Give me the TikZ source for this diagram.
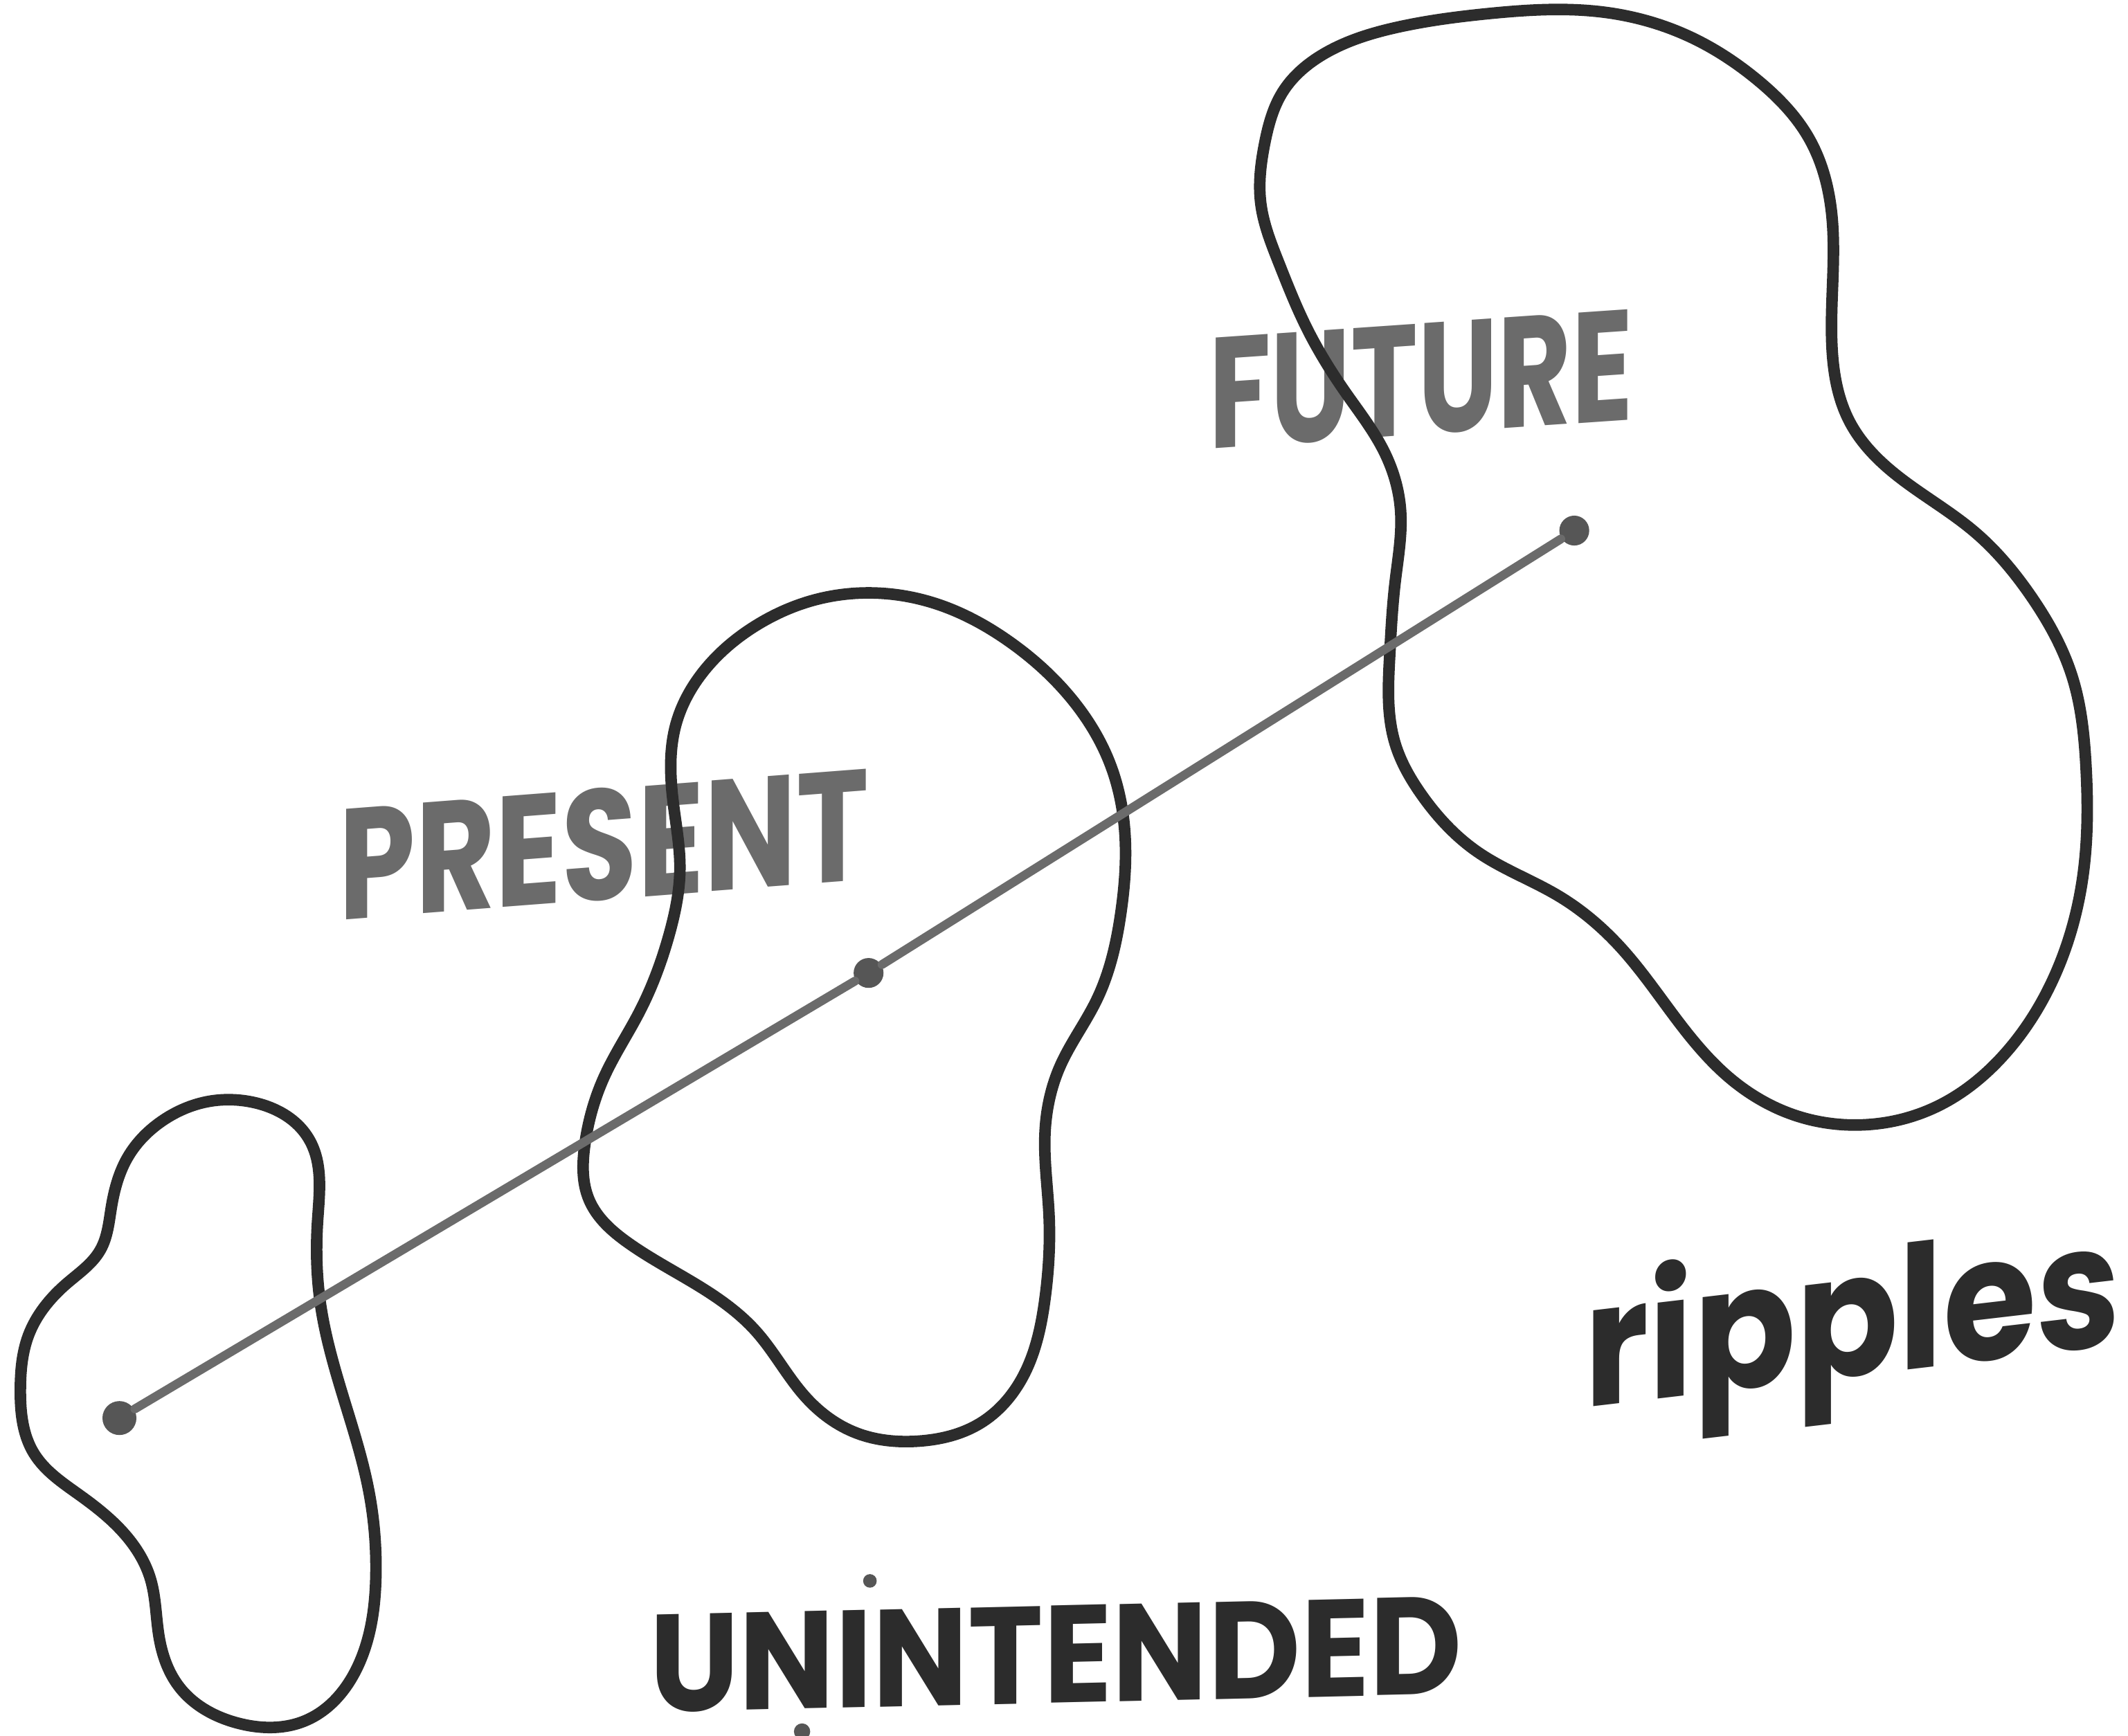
\documentclass[tikz,border=0pt]{standalone}
\usepackage{fontspec}
\usepackage{graphicx}
\newfontfamily\handfont{Poppins}
\usetikzlibrary{positioning, hobby}

\definecolor{inkblack}{HTML}{2C2C2C}
\definecolor{pencilgray}{HTML}{6B6B6B}
\definecolor{dotgray}{HTML}{565656}

\begin{document}
\begin{tikzpicture}[x=0.01cm, y=-0.01cm,
    blob/.style={draw=inkblack, line width=0.085cm, line join=round, use Hobby shortcut, closed=true},
    timeline/.style={draw=pencilgray, line width=0.065cm, line cap=round},
    dot/.style={circle, fill=dotgray, inner sep=0pt, minimum size=0.25cm},
    softword/.style={text=pencilgray, inner sep=0pt, anchor=base, font=\handfont\bfseries\fontsize{33}{33}\selectfont},
    inkword/.style={text=inkblack, inner sep=0pt, anchor=base, font=\handfont\bfseries\fontsize{29}{29}\selectfont}]

      % Fundo (margens da imagem)
      \useasboundingbox[fill=white] (0,0) rectangle (1568,1279);

      % Palavras (letras em pe, linha de base subindo)
      \node[softword, yslant=0.069] (futurelabel) at (1047,320) {\scalebox{0.72}[1]{FUTURE}};
      \node[softword, yslant=0.077] (presentlabel) at (445,663) {\scalebox{0.78}[1]{PRESENT}};
      \node[inkword, font=\handfont\bfseries\fontsize{36}{36}\selectfont, yslant=0.117] (rippleslabel) at (1365,1014) {\scalebox{0.88}[1]{ripples}};
      \node[inkword, yslant=0.023] (unintendedlabel) at (778,1255) {\scalebox{0.92}[1]{UNINTENDED}};

      % Pingos soltos perto do texto de baixo
      \fill[dotgray] (641,1165) circle (5);
      \fill[dotgray] (591,1276) circle (6);

      % Bolha pequena (passado)
      \draw[blob] (185,812) .. (228,840) .. (234,900) .. (236,960) .. (254,1033)
        .. (272,1100) .. (277,1160) .. (265,1225) .. (225,1268) .. (176,1270)
        .. (132,1243) .. (117,1205) .. (111,1164) .. (94,1133) .. (59,1102)
        .. (25,1071) .. (15,1024) .. (21,984) .. (49,946) .. (74,921)
        .. (82,890) .. (94,853) .. (121,825) .. (152,812);

      % Bolha do meio (presente)
      \draw[blob] (645,437) .. (690,445) .. (744,473) .. (792,518) .. (818,563)
        .. (829,616) .. (826,672) .. (808,737) .. (781,786) .. (770,835)
        .. (773,896) .. (770,957) .. (754,1014) .. (722,1049) .. (677,1062)
        .. (631,1056) .. (594,1030) .. (557,981) .. (517,949) .. (463,916)
        .. (434,884) .. (431,843) .. (445,794) .. (471,746) .. (493,689)
        .. (501,640) .. (496,591) .. (498,534) .. (519,494) .. (557,461) .. (597,443);

      % Bolha grande (futuro)
      \draw[blob] (975,40) .. (945,68) .. (932,105) .. (929,150) .. (942,193)
        .. (963,242) .. (992,290) .. (1020,333) .. (1032,376) .. (1028,429)
        .. (1024,483) .. (1028,548) .. (1047,585) .. (1089,628) .. (1148,660)
        .. (1194,698) .. (1236,752) .. (1274,794) .. (1320,821) .. (1371,829)
        .. (1426,816) .. (1476,778) .. (1514,719) .. (1535,644) .. (1537,564)
        .. (1527,499) .. (1497,440) .. (1455,392) .. (1396,349) .. (1363,311)
        .. (1350,258) .. (1350,161) .. (1333,102) .. (1295,59) .. (1245,27)
        .. (1182,9) .. (1097,10) .. (1030,20);

      % Pontos da linha do tempo
      \node[dot] (pastdot) at (88,1045) {};
      \node[dot, minimum size=0.22cm] (nowdot) at (640,717) {};
      \node[dot, minimum size=0.22cm] (futuredot) at (1160,391) {};

      % Linha do tempo
      \draw[timeline] (pastdot) -- (nowdot);
      \draw[timeline] (nowdot) -- (futuredot);

\end{tikzpicture}
\end{document}
